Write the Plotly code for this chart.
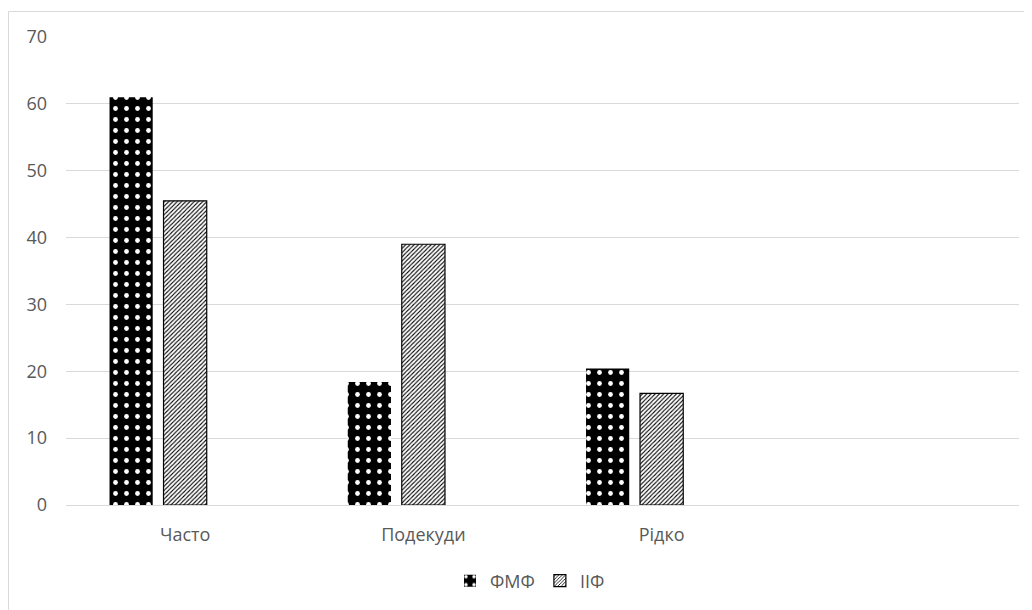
import plotly.graph_objects as go

categories = ["Часто", "Подекуди", "Рідко"]
fmf_values = [61.0, 18.4, 20.4]
iif_values = [45.5, 39.0, 16.7]
hidden_values = [None, None, None]
series_names = ["ФМФ", "ІІФ"]
y_ticks = [0, 10, 20, 30, 40, 50, 60, 70]

TEXT = "#595959"
GRID = "#d9d9d9"
FONT = "Open Sans"

fig = go.Figure()
fig.add_trace(go.Bar(
    x=categories, y=fmf_values, name=series_names[0],
    marker=dict(color="black", line=dict(width=0),
                pattern=dict(shape=".", fgcolor="white", bgcolor="black",
                             size=11, solidity=0.15, fillmode="replace")),
))
fig.add_trace(go.Bar(
    x=categories, y=iif_values, name=series_names[1],
    marker=dict(color="white", line=dict(width=1.2, color="black"),
                pattern=dict(shape="/", fgcolor="black", bgcolor="white",
                             size=3, solidity=0.35, fillmode="replace")),
))
fig.add_trace(go.Bar(
    x=categories, y=hidden_values, name="", showlegend=False,
    marker=dict(color="rgba(0,0,0,0)"), hoverinfo="skip",
))

# page has an 8px body offset; work in figure coordinates
W, H = 1024, 602
ml, mr, mt, mb = 58, 13, 29, 104
pw = W - ml - mr
ph = H - mt - mb
plot_bottom = H - mb

fig.update_layout(
    width=W, height=H,
    margin=dict(l=ml, r=mr, t=mt, b=mb, pad=0),
    paper_bgcolor="white", plot_bgcolor="white",
    barmode="group", bargap=0.32, bargroupgap=0.2,
    font=dict(family=FONT, size=18, color=TEXT),
    showlegend=True,
    legend=dict(orientation="h", x=(522 - ml) / pw, xanchor="center",
                y=(plot_bottom - 573) / ph, yanchor="middle",
                font=dict(family=FONT, size=18, color=TEXT),
                itemwidth=30, traceorder="normal"),
    xaxis=dict(type="category", range=[-0.5, 3.5], showgrid=False,
               showline=True, linecolor=GRID, linewidth=1,
               ticks="", tickfont=dict(family=FONT, size=18, color=TEXT),
               ticklabelstandoff=13, zeroline=False),
    yaxis=dict(range=[0, 70], tickvals=y_ticks, showgrid=True,
               gridcolor=GRID, gridwidth=1, zeroline=False, showline=False,
               ticks="", tickfont=dict(family=FONT, size=18, color=TEXT),
               ticklabelstandoff=18),
    shapes=[dict(type="rect", xref="paper", yref="paper",
                 x0=(0.5 - ml) / pw, x1=(W + 5 - ml) / pw,
                 y0=(plot_bottom - (H + 5)) / ph, y1=(plot_bottom - 3.5) / ph,
                 line=dict(color=GRID, width=1), fillcolor="rgba(0,0,0,0)",
                 layer="below")],
)

fig.write_html("out.html")
